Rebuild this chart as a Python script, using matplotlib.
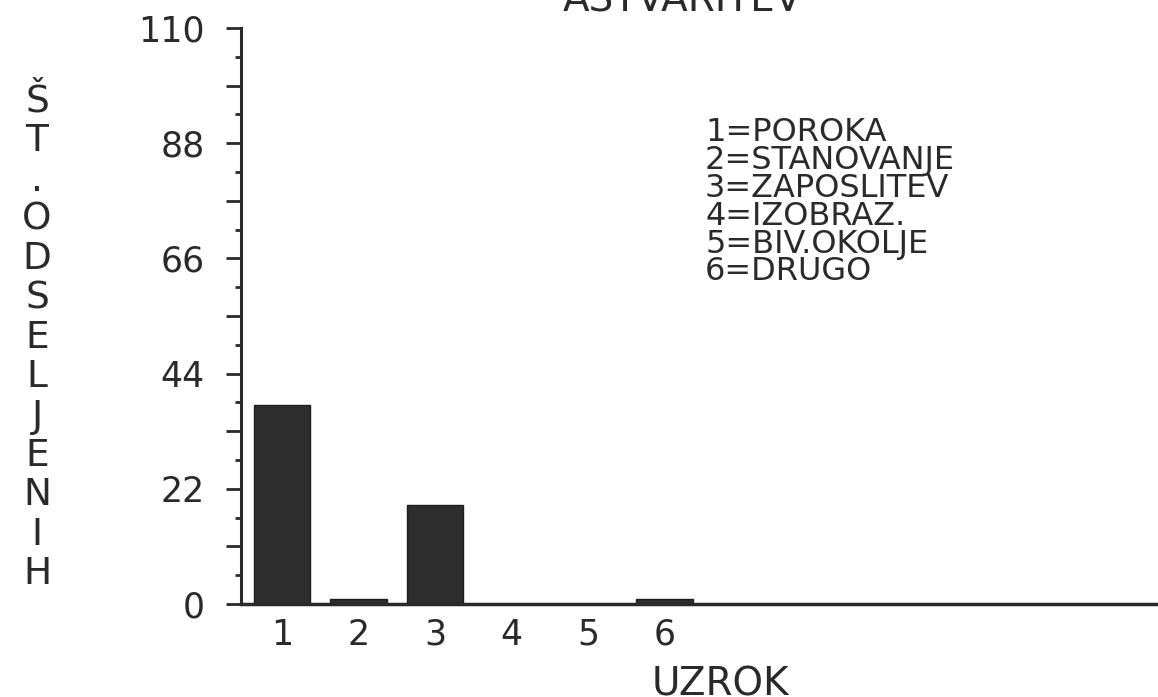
import matplotlib
matplotlib.use('Agg')
import matplotlib.pyplot as plt
from matplotlib.ticker import MultipleLocator, FuncFormatter

# data
categories = [1, 2, 3, 4, 5, 6]
counts = [38, 1, 19, 0, 0, 1]
legend_lines = ["1=POROKA", "2=STANOVANJE", "3=ZAPOSLITEV",
                "4=IZOBRAZ.", "5=BIV.OKOLJE", "6=DRUGO"]
ylabel_text = "ŠT.ODSELJENIH"
xlabel_text = "UZROK"
title_text = "ASTVARITEV"

ink = "#2a2a2a"
plt.rcParams['font.family'] = 'DejaVu Sans'

fig = plt.figure(figsize=(11.58, 6.97), dpi=100)
ax = fig.add_axes([0.208, 0.1334, 0.792, 0.8264])

ax.bar(categories, counts, width=0.74, color="#2e2e2e", edgecolor="#1e1e1e")

ax.set_xlim(0.465, 12.44)
ax.set_ylim(0, 110)

# y axis: long ticks every 11, labels every 22, small ticks at 5.5
ax.yaxis.set_major_locator(MultipleLocator(11))
ax.yaxis.set_minor_locator(MultipleLocator(5.5))
ax.yaxis.set_major_formatter(FuncFormatter(lambda v, p: "%d" % v if round(v) % 22 == 0 else ""))
ax.tick_params(axis='y', which='major', length=11, width=2, color=ink,
               labelsize=25, labelcolor=ink, pad=15)
ax.tick_params(axis='y', which='minor', length=4, width=2, color=ink)

ax.set_xticks(categories)
ax.set_xticklabels([str(c) for c in categories])
ax.tick_params(axis='x', length=0, labelsize=25, labelcolor=ink, pad=10)

for s in ['top', 'right']:
    ax.spines[s].set_visible(False)
ax.spines['left'].set_linewidth(2.2)
ax.spines['bottom'].set_linewidth(2.5)
ax.spines['left'].set_color(ink)
ax.spines['bottom'].set_color(ink)

# legend text block, one text with tight line spacing
fig.text(705 / 1158, 1 - 117 / 697, "\n".join(legend_lines), fontsize=23,
         color=ink, ha='left', va='top', linespacing=0.87)

# stacked y label
fig.text(37 / 1158, 1 - 338 / 697, "\n".join(ylabel_text), fontsize=27,
         color=ink, ha='center', va='center', linespacing=1.12)

# x label, cut off at the bottom
fig.text(720 / 1158, 1 - 666 / 697, xlabel_text, fontsize=28,
         color=ink, ha='center', va='top')

# title, mostly cut off at the top
fig.text(682 / 1158, 1 - 11 / 697, title_text, fontsize=28,
         color=ink, ha='center', va='baseline')

fig.savefig("out.png", dpi=100)
